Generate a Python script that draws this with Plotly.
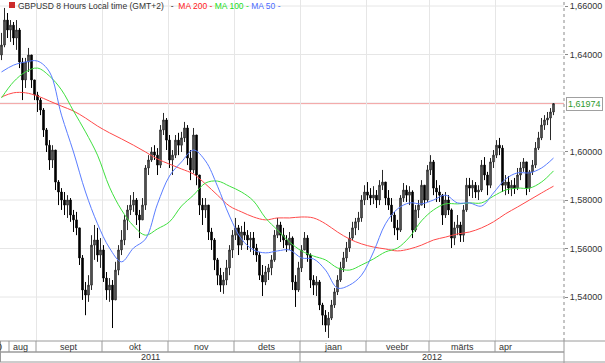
import plotly.graph_objects as go

# ---------------- data (GBPUSD, one candle per trading day) -------------
first_open = 1.6398
close = [1.6439, 1.6542, 1.6501, 1.6521, 1.6468, 1.6501, 1.6369, 1.6295, 1.6369, 1.6398,
         1.6295, 1.6233, 1.6212, 1.6171, 1.6089, 1.6026, 1.5965, 1.6006, 1.5874, 1.5833,
         1.5800, 1.5779, 1.5800, 1.5738, 1.5718, 1.5685, 1.5561, 1.5429, 1.5408, 1.5449,
         1.5614, 1.5635, 1.5573, 1.5594, 1.5478, 1.5429, 1.5449, 1.5388, 1.5511, 1.5594,
         1.5635, 1.5718, 1.5759, 1.5779, 1.5800, 1.5738, 1.5718, 1.5779, 1.5932, 1.5965,
         1.5998, 1.5985, 1.5944, 1.6089, 1.6130, 1.6047, 1.5965, 1.5985, 1.6047, 1.6026,
         1.6056, 1.6097, 1.5973, 1.5924, 1.6068, 1.5903, 1.5779, 1.5759, 1.5779, 1.5668,
         1.5635, 1.5553, 1.5490, 1.5449, 1.5470, 1.5520, 1.5594, 1.5655, 1.5685, 1.5614,
         1.5668, 1.5655, 1.5635, 1.5643, 1.5602, 1.5573, 1.5490, 1.5462, 1.5503, 1.5520,
         1.5553, 1.5655, 1.5697, 1.5655, 1.5635, 1.5614, 1.5643, 1.5462, 1.5429, 1.5520,
         1.5594, 1.5643, 1.5573, 1.5470, 1.5449, 1.5462, 1.5367, 1.5325, 1.5284, 1.5313,
         1.5367, 1.5421, 1.5470, 1.5520, 1.5561, 1.5602, 1.5643, 1.5685, 1.5710, 1.5726,
         1.5800, 1.5833, 1.5820, 1.5808, 1.5820, 1.5800, 1.5861, 1.5874, 1.5808, 1.5779,
         1.5738, 1.5685, 1.5676, 1.5808, 1.5841, 1.5820, 1.5833, 1.5676, 1.5759, 1.5779,
         1.5861, 1.5800, 1.5924, 1.5957, 1.5849, 1.5833, 1.5820, 1.5738, 1.5800, 1.5759,
         1.5643, 1.5685, 1.5697, 1.5655, 1.5759, 1.5861, 1.5849, 1.5861, 1.5833, 1.5841,
         1.5944, 1.5903, 1.5861, 1.5957, 1.5985, 1.6026, 1.6014, 1.5861, 1.5874, 1.5849,
         1.5861, 1.5849, 1.5903, 1.5932, 1.5957, 1.5849, 1.5916, 1.5944, 1.6014, 1.6056,
         1.6109, 1.6130, 1.6138, 1.6163, 1.61974]
high = [1.6489, 1.6592, 1.6571, 1.6542, 1.6534, 1.6542, 1.6509, 1.6386, 1.6386, 1.6427,
        1.6398, 1.6295, 1.6246, 1.6221, 1.6179, 1.6097, 1.6047, 1.6026, 1.6006, 1.5882,
        1.5849, 1.5833, 1.5820, 1.5808, 1.5759, 1.5751, 1.5685, 1.5573, 1.5462, 1.5490,
        1.5655, 1.5697, 1.5685, 1.5643, 1.5614, 1.5503, 1.5478, 1.5470, 1.5545, 1.5614,
        1.5676, 1.5738, 1.5779, 1.5820, 1.5833, 1.5808, 1.5759, 1.5808, 1.5944, 1.5985,
        1.6018, 1.6026, 1.6014, 1.6109, 1.6159, 1.6138, 1.6068, 1.6006, 1.6068, 1.6077,
        1.6081, 1.6122, 1.6109, 1.6006, 1.6097, 1.6068, 1.5903, 1.5808, 1.5808, 1.5779,
        1.5685, 1.5643, 1.5561, 1.5520, 1.5503, 1.5553, 1.5614, 1.5676, 1.5726, 1.5697,
        1.5693, 1.5710, 1.5676, 1.5668, 1.5668, 1.5619, 1.5586, 1.5532, 1.5528, 1.5536,
        1.5573, 1.5676, 1.5726, 1.5710, 1.5685, 1.5655, 1.5668, 1.5650, 1.5490, 1.5545,
        1.5614, 1.5668, 1.5655, 1.5580, 1.5490, 1.5486, 1.5470, 1.5376, 1.5346, 1.5338,
        1.5388, 1.5437, 1.5490, 1.5545, 1.5586, 1.5627, 1.5668, 1.5710, 1.5726, 1.5751,
        1.5820, 1.5861, 1.5874, 1.5849, 1.5857, 1.5841, 1.5882, 1.5924, 1.5874, 1.5841,
        1.5808, 1.5751, 1.5718, 1.5820, 1.5870, 1.5861, 1.5857, 1.5840, 1.5779, 1.5800,
        1.5882, 1.5861, 1.5944, 1.5985, 1.5965, 1.5882, 1.5861, 1.5825, 1.5833, 1.5820,
        1.5765, 1.5710, 1.5738, 1.5710, 1.5779, 1.5891, 1.5891, 1.5882, 1.5874, 1.5861,
        1.5965, 1.5977, 1.5916, 1.5973, 1.6006, 1.6047, 1.6056, 1.6026, 1.5903, 1.5899,
        1.5882, 1.5891, 1.5932, 1.5957, 1.5973, 1.5957, 1.5924, 1.5965, 1.6039, 1.6081,
        1.6138, 1.6150, 1.6163, 1.6179, 1.6200]
low = [1.6377, 1.6430, 1.6468, 1.6452, 1.6439, 1.6419, 1.6344, 1.6212, 1.6262, 1.6328,
       1.6262, 1.6212, 1.6163, 1.6150, 1.6060, 1.5998, 1.5924, 1.5932, 1.5841, 1.5779,
       1.5759, 1.5738, 1.5726, 1.5710, 1.5668, 1.5655, 1.5532, 1.5388, 1.5325, 1.5380,
       1.5429, 1.5553, 1.5545, 1.5520, 1.5462, 1.5388, 1.5380, 1.5272, 1.5388, 1.5490,
       1.5573, 1.5614, 1.5676, 1.5738, 1.5751, 1.5697, 1.5643, 1.5718, 1.5759, 1.5903,
       1.5957, 1.5965, 1.5903, 1.5932, 1.6068, 1.6006, 1.5932, 1.5903, 1.5973, 1.5985,
       1.5998, 1.6039, 1.5944, 1.5882, 1.5910, 1.5861, 1.5738, 1.5697, 1.5726, 1.5635,
       1.5594, 1.5511, 1.5449, 1.5421, 1.5413, 1.5449, 1.5490, 1.5561, 1.5635, 1.5573,
       1.5594, 1.5635, 1.5594, 1.5586, 1.5573, 1.5545, 1.5470, 1.5404, 1.5449, 1.5470,
       1.5490, 1.5545, 1.5643, 1.5627, 1.5602, 1.5586, 1.5594, 1.5429, 1.5359, 1.5421,
       1.5503, 1.5594, 1.5545, 1.5437, 1.5408, 1.5404, 1.5346, 1.5284, 1.5256, 1.5231,
       1.5305, 1.5355, 1.5408, 1.5462, 1.5503, 1.5545, 1.5586, 1.5635, 1.5655, 1.5676,
       1.5710, 1.5779, 1.5800, 1.5779, 1.5783, 1.5767, 1.5779, 1.5841, 1.5779, 1.5759,
       1.5710, 1.5655, 1.5635, 1.5668, 1.5792, 1.5792, 1.5779, 1.5643, 1.5668, 1.5726,
       1.5779, 1.5767, 1.5792, 1.5903, 1.5820, 1.5792, 1.5792, 1.5697, 1.5726, 1.5738,
       1.5602, 1.5614, 1.5655, 1.5627, 1.5627, 1.5751, 1.5816, 1.5808, 1.5808, 1.5800,
       1.5833, 1.5882, 1.5820, 1.5849, 1.5932, 1.5973, 1.5985, 1.5833, 1.5820, 1.5825,
       1.5816, 1.5825, 1.5841, 1.5882, 1.5916, 1.5820, 1.5833, 1.5903, 1.5932, 1.6006,
       1.6047, 1.6089, 1.6109, 1.6047, 1.6150]

# moving averages, sampled every 4th candle
ma_step = 4
ma200 = [1.6225, 1.6242, 1.6242, 1.6229, 1.6208, 1.6187, 1.6167, 1.6138, 1.6105, 1.6077,
         1.6052, 1.6026, 1.5998, 1.5969, 1.5948, 1.5928, 1.5907, 1.5866, 1.5820, 1.5775,
         1.5751, 1.5730, 1.5718, 1.5726, 1.5726, 1.5730, 1.5726, 1.5702, 1.5668, 1.5639,
         1.5619, 1.5606, 1.5598, 1.5590, 1.5598, 1.5614, 1.5635, 1.5647, 1.5660, 1.5668,
         1.5685, 1.5710, 1.5743, 1.5771, 1.5800, 1.5829, 1.5857]
ma100 = [1.6221, 1.6287, 1.6328, 1.6344, 1.6311, 1.6254, 1.6167, 1.6081, 1.5985, 1.5853,
         1.5759, 1.5693, 1.5655, 1.5681, 1.5710, 1.5775, 1.5820, 1.5870, 1.5878, 1.5857,
         1.5833, 1.5796, 1.5726, 1.5676, 1.5627, 1.5590, 1.5569, 1.5553, 1.5520, 1.5511,
         1.5532, 1.5557, 1.5586, 1.5602, 1.5647, 1.5714, 1.5759, 1.5784, 1.5784, 1.5788,
         1.5788, 1.5816, 1.5841, 1.5849, 1.5849, 1.5874, 1.5920]
ma50 = [1.6328, 1.6356, 1.6369, 1.6373, 1.6328, 1.6150, 1.5998, 1.5833, 1.5702, 1.5602,
        1.5545, 1.5602, 1.5639, 1.5784, 1.5899, 1.5957, 1.6006, 1.5961, 1.5857, 1.5734,
        1.5639, 1.5594, 1.5582, 1.5590, 1.5594, 1.5561, 1.5557, 1.5511, 1.5437, 1.5449,
        1.5490, 1.5586, 1.5702, 1.5763, 1.5788, 1.5784, 1.5800, 1.5820, 1.5788, 1.5788,
        1.5775, 1.5829, 1.5886, 1.5912, 1.5912, 1.5932, 1.5973]

month_starts = [3, 12, 34, 56, 78, 100, 122, 143, 165]   # candle index where a month cell begins
month_labels = ["aug", "sept", "okt", "nov", "dets", "jaan", "veebr", "märts", "apr"]
year_starts = [0, 100]
year_labels = ["2011", "2012"]
y_ticks = [1.54, 1.56, 1.58, 1.60, 1.64, 1.66]
grid_levels = [1.54, 1.56, 1.58, 1.60, 1.62, 1.64, 1.66]
title_text = "GBPUSD 8 Hours Local time (GMT+2)"

# ---------------- figure ----------------
W, H = 605, 363
PW, PH = 564, 341          # plot area in pixels
X_MIN, X_MAX = -0.5, 187.5
FONT = "Liberation Sans, Arial, sans-serif"

days = list(range(len(close)))
opens = [first_open] + close[:-1]
ma_x = [i * ma_step for i in range(len(ma50))]

fig = go.Figure()
fig.add_trace(go.Candlestick(
    x=days, open=opens, high=high, low=low, close=close,
    increasing=dict(line=dict(color="#2a2a2a", width=1), fillcolor="#6e6e6e"),
    decreasing=dict(line=dict(color="#000000", width=1), fillcolor="#000000"),
    whiskerwidth=0, hoverinfo="skip", showlegend=False))
for vals, col in [(ma200, "#ff4a4a"), (ma100, "#3fe03f"), (ma50, "#5a7dff")]:
    fig.add_trace(go.Scatter(x=ma_x, y=vals, mode="lines",
                             line=dict(color=col, width=1, shape="spline", smoothing=1.0),
                             hoverinfo="skip", showlegend=False))

def py(pix):            # pixel row -> paper y
    return 1 - pix / PH

def px(pix):            # pixel column -> paper x
    return pix / PW

GRID = "#e6e6e6"
EDGE = "#9a9a9a"
shapes = []
# horizontal grid lines (incl. the level hidden behind the price label)
for g in grid_levels:
    shapes.append(dict(type="line", xref="paper", yref="y", x0=0, x1=1, y0=g, y1=g,
                       line=dict(color=GRID, width=1), layer="below"))
# current price line
shapes.append(dict(type="line", xref="paper", yref="y", x0=0, x1=1, y0=close[-1], y1=close[-1],
                   line=dict(color="#f3a0a0", width=1), layer="below"))
# right axis dotted line
shapes.append(dict(type="line", xref="paper", yref="paper", x0=1, x1=1, y0=0, y1=1,
                   line=dict(color="#8a8a8a", width=1, dash="dot")))
# bottom time-axis frame
shapes.append(dict(type="line", xref="paper", yref="paper", x0=0, x1=px(W), y0=0, y1=0,
                   line=dict(color=EDGE, width=1)))
shapes.append(dict(type="line", xref="paper", yref="paper", x0=0, x1=1, y0=py(352), y1=py(352),
                   line=dict(color="#b4b4b4", width=2)))
shapes.append(dict(type="line", xref="paper", yref="paper", x0=0, x1=px(W), y0=py(362), y1=py(362),
                   line=dict(color=EDGE, width=1)))
shapes.append(dict(type="line", xref="paper", yref="paper", x0=1, x1=1, y0=py(363), y1=0,
                   line=dict(color=EDGE, width=1)))
shapes.append(dict(type="line", xref="paper", yref="paper", x0=px(0.5), x1=px(0.5), y0=py(362), y1=0,
                   line=dict(color=EDGE, width=1)))
for b in month_starts:
    shapes.append(dict(type="line", xref="x", yref="paper", x0=b - 0.5, x1=b - 0.5,
                       y0=py(352), y1=0, line=dict(color=EDGE, width=1)))
for b in year_starts[1:]:
    shapes.append(dict(type="line", xref="x", yref="paper", x0=b - 0.5, x1=b - 0.5,
                       y0=py(362), y1=py(352), line=dict(color=EDGE, width=1)))
# small red icon before title
shapes.append(dict(type="rect", xref="paper", yref="paper", x0=px(9), x1=px(15), y0=py(8), y1=py(2),
                   fillcolor="#cc2b2b", line=dict(width=0)))

annotations = []
TXT = "#333333"
cells = month_starts + [X_MAX + 0.5]
for k, lab in enumerate(month_labels):
    a, b = cells[k] - 0.5, cells[k + 1] - 0.5
    if k == 0 or k == len(month_labels) - 1:
        annotations.append(dict(x=a + 0.6, y=py(346.5), xref="x", yref="paper", text=lab,
                                xanchor="left", yanchor="middle", showarrow=False,
                                font=dict(size=9, color=TXT, family=FONT)))
    else:
        annotations.append(dict(x=(a + b) / 2, y=py(346.5), xref="x", yref="paper", text=lab,
                                xanchor="center", yanchor="middle", showarrow=False,
                                font=dict(size=9, color=TXT, family=FONT)))
annotations.append(dict(x=px(3.5), y=py(346.5), xref="paper", yref="paper", text="0",
                        xanchor="right", yanchor="middle", showarrow=False,
                        font=dict(size=9, color=TXT, family=FONT)))
ycells = year_starts + [X_MAX + 0.5]
for k, lab in enumerate(year_labels):
    a, b = ycells[k] - 0.5, ycells[k + 1] - 0.5
    annotations.append(dict(x=(a + b) / 2, y=py(357), xref="x", yref="paper", text=lab,
                            xanchor="center", yanchor="middle", showarrow=False,
                            font=dict(size=9, color=TXT, family=FONT)))
# title / legend line
title_html = (title_text + "&nbsp;&nbsp; -&nbsp; "
              "<span style='color:#ff2020'>MA 200 -</span>&nbsp;"
              "<span style='color:#22dd22'>MA 100 -</span>&nbsp;"
              "<span style='color:#4a6cff'>MA 50 -</span>")
annotations.append(dict(x=px(16), y=py(6), xref="paper", yref="paper", text=title_html,
                        xanchor="left", yanchor="middle", showarrow=False,
                        font=dict(size=8.5, color=TXT, family=FONT)))
# last price label
annotations.append(dict(x=1, y=close[-1], xref="paper", yref="y",
                        text=f"{close[-1]:.5f}".replace(".", ","),
                        xanchor="left", yanchor="middle", xshift=2, showarrow=False,
                        bgcolor="white", bordercolor="#a0a0a0", borderwidth=1, borderpad=1,
                        font=dict(size=9, color="#2e9a2e", family=FONT)))

y_top = 1.66 + 6 / 2425
y_bot = 1.66 - (PH - 6) / 2425

fig.update_layout(
    width=W, height=H,
    margin=dict(l=0, r=W - PW, t=0, b=H - PH, pad=0, autoexpand=False),
    paper_bgcolor="white", plot_bgcolor="white",
    separators=",.",
    font=dict(family=FONT, size=9, color=TXT),
    showlegend=False, hovermode=False,
    shapes=shapes, annotations=annotations,
    xaxis=dict(range=[X_MIN, X_MAX], tickvals=[b - 0.5 for b in month_starts[1:]],
               showticklabels=False, ticks="", showgrid=True, gridcolor=GRID, gridwidth=1,
               zeroline=False, showline=False, rangeslider=dict(visible=False), fixedrange=True),
    yaxis=dict(range=[y_bot, y_top], side="right", tickvals=y_ticks, tickformat=".5f",
               showgrid=False, zeroline=False, showline=False,
               ticks="outside", ticklen=3, tickcolor="#8a8a8a",
               tickfont=dict(size=9, color=TXT, family=FONT), fixedrange=True),
)

fig.write_html("out.html", config={"displayModeBar": False, "staticPlot": True},
               post_script="document.body.style.margin='0px';document.body.style.overflow='hidden';")
